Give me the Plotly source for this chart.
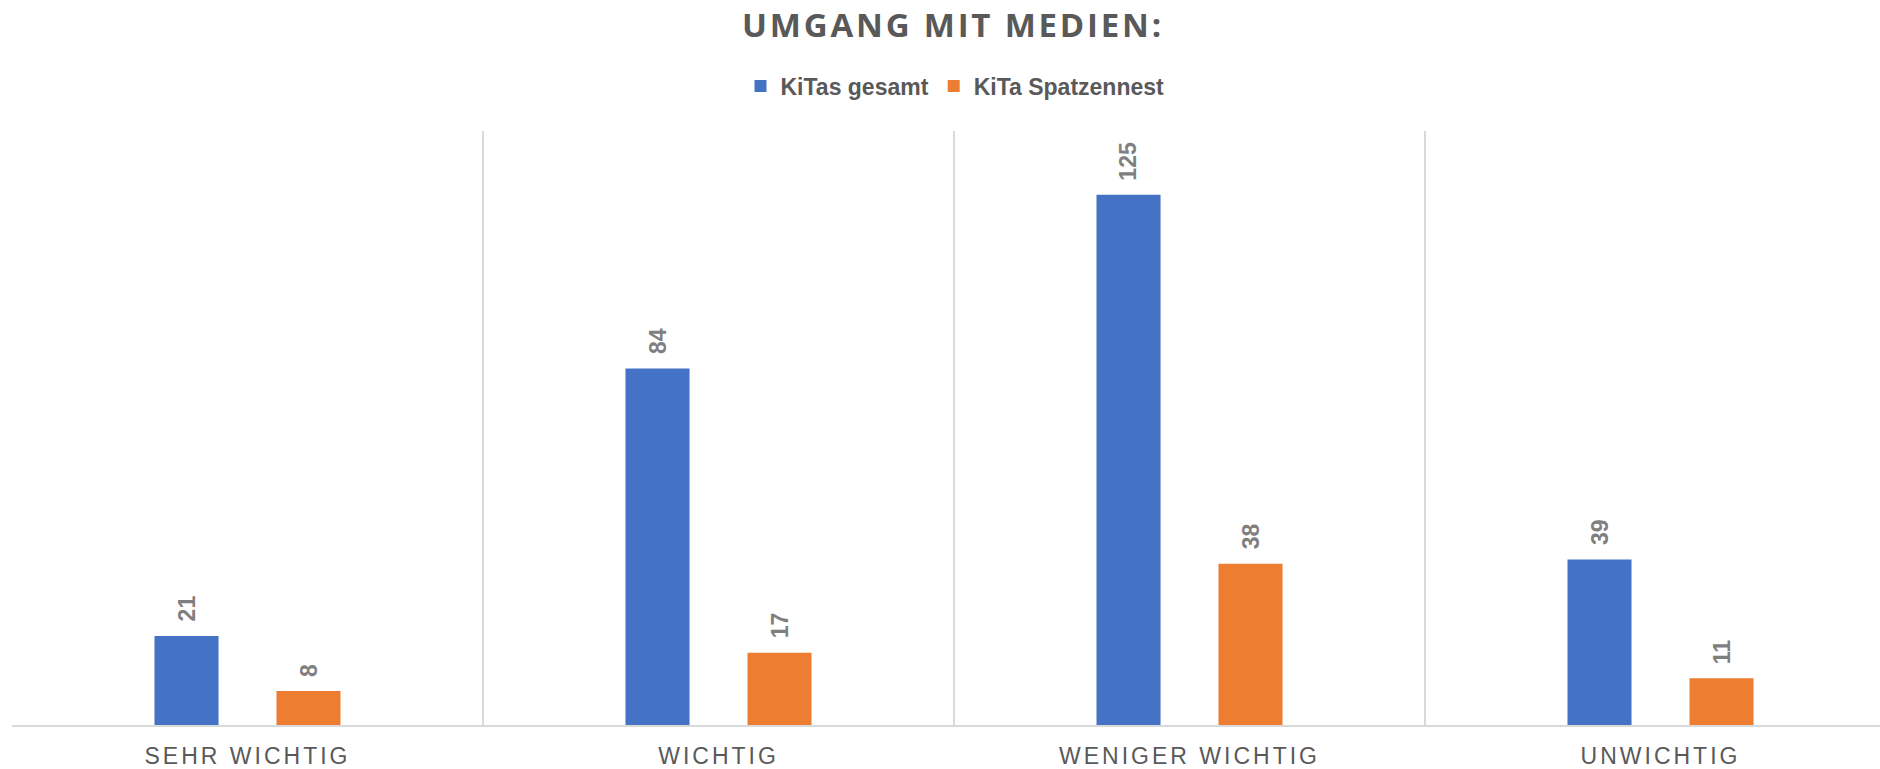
import plotly.graph_objects as go

categories = ["SEHR WICHTIG", "WICHTIG", "WENIGER WICHTIG", "UNWICHTIG"]
kitas_gesamt = [21, 84, 125, 39]
kita_spatzennest = [8, 17, 38, 11]
series_names = ["KiTas gesamt", "KiTa Spatzennest"]
colors = ["#4472C4", "#ED7D31"]

W, H = 1880, 769
ML, MR, MT, MB = 12, 0, 131, 38
XR = [-0.5, 3.466]
BARGAP = 0.482
BARGROUPGAP = 0.475

fig = go.Figure()
for name, vals, col in zip(series_names, [kitas_gesamt, kita_spatzennest], colors):
    fig.add_trace(go.Bar(x=categories, y=vals, name=name, marker_color=col,
                         marker_line_width=0))

# data labels (rotated) via annotations
cat_px = (W - ML - MR) / (XR[1] - XR[0])
slot_off = cat_px * (1 - BARGAP) / 4
for i, vals in enumerate([kitas_gesamt, kita_spatzennest]):
    sh = -slot_off if i == 0 else slot_off
    for c, v in zip(categories, vals):
        fig.add_annotation(x=c, y=v, text=str(v), showarrow=False, textangle=-90,
                           xshift=sh, yshift=12, yanchor="bottom", xanchor="center",
                           font=dict(family="Liberation Sans, Arial", size=23,
                                     color="#7F7F7F", weight="bold"))

fig.update_layout(
    width=W, height=H,
    margin=dict(l=ML, r=MR, t=MT, b=MB, pad=0),
    paper_bgcolor="white", plot_bgcolor="white",
    barmode="group", bargap=BARGAP, bargroupgap=BARGROUPGAP,
    title=dict(text="UMGANG MIT MEDIEN:", x=953 / W, xanchor="center",
               xref="container", y=1 - 25 / H, yanchor="middle",
               font=dict(family="Open Sans", size=33, color="#595959", weight="bold")),
    legend=dict(orientation="h", x=955 / W, xref="container", xanchor="center",
                y=1 - 86 / H, yref="container", yanchor="middle",
                font=dict(family="Liberation Sans, Arial", size=23, color="#595959",
                          weight="bold"),
                itemwidth=30, traceorder="normal"),
    showlegend=True,
    xaxis=dict(range=XR, type="category", tickson="boundaries", showgrid=True,
               gridcolor="#D9D9D9", gridwidth=2, ticks="", showline=True,
               linecolor="#D9D9D9", linewidth=2, ticklabelstandoff=9,
               tickfont=dict(family="Liberation Sans, Arial", size=23, color="#595959"),
               fixedrange=True),
    yaxis=dict(range=[0, 140], visible=False, showgrid=False, zeroline=False,
               fixedrange=True),
)

post = """
document.body.style.margin = '0';
document.body.style.overflow = 'hidden';
var gd = document.getElementById('{plot_id}');
function ls(){
  gd.querySelectorAll('.gtitle').forEach(function(e){e.style.letterSpacing='2.8px';});
  gd.querySelectorAll('.xtick text').forEach(function(e){e.style.letterSpacing='3px';});
}
ls();
if (gd.on) { gd.on('plotly_afterplot', ls); }
"""
fig.write_html("out.html", post_script=post, config={"displayModeBar": False})
